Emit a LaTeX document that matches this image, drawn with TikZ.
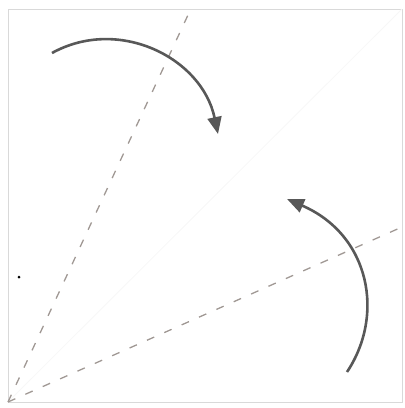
\documentclass[tikz,border=0pt]{standalone}
\usepackage{tikz}
\usetikzlibrary{
	arrows.meta,
	positioning,
	calc
}
\usepackage{xcolor}
\definecolor{crease}{RGB}{160,152,148}
\definecolor{arrowgray}{RGB}{88,88,88}

\begin{document}
\begin{tikzpicture}[
		x=1pt, y=-1pt,
		paper/.style={
			draw=gray!30,
			line width=1pt
		},
		fold/.style={
			draw=crease,
			line width=1.3pt,
			dash pattern=on 8pt off 11pt
		},
		turn/.style={
			draw=arrowgray,
			line width=2.6pt,
			-{Triangle[length=17pt,width=14pt]}
		}
		]
		\useasboundingbox (0,0) rectangle (405,408);
		
		% Square
		\coordinate (bl) at (8,402);
		\coordinate (tr) at (402,9);
		\draw[paper] (bl) rectangle (tr);
		\draw[draw=black!3, line width=0.8pt] (bl) -- (tr);
		
		% Fold lines
		\coordinate (topend) at (188,15);
		\coordinate (rightend) at (402,227);
		\draw[fold] (bl) -- (topend);
		\draw[fold] (bl) -- (rightend);
		
		% Arrows
		\coordinate (upstart) at (52,53);
		\coordinate (upend) at (218,134);
		\draw[turn] (upstart) .. controls (119,16) and (202,58) .. (upend);
		
		\coordinate (lowstart) at (347,372);
		\coordinate (lowend) at (287,199);
		\draw[turn] (lowstart) .. controls (385,315) and (370,235) .. (lowend);
		
		% Mark
		\fill (19,277) circle (1.5pt);
		
	\end{tikzpicture}
\end{document}
